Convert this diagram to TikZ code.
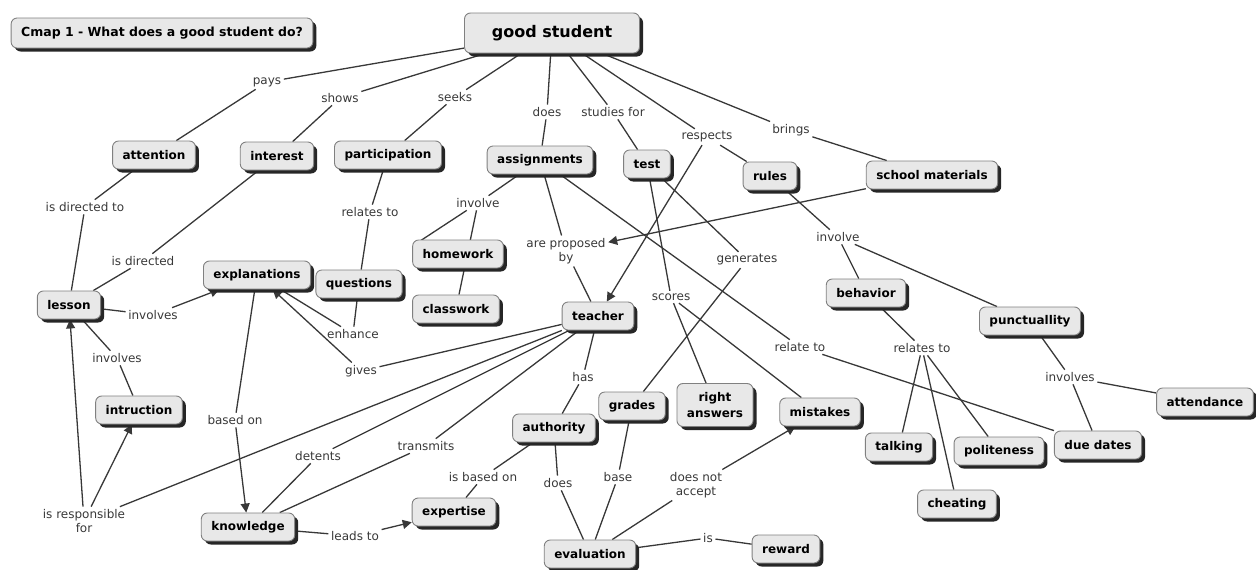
\documentclass[tikz,border=0pt]{standalone}
\usepackage{fontspec}
\setmainfont{DejaVu Sans}
\usetikzlibrary{shadows,arrows.meta}
\pgfdeclarelayer{bg}
\pgfsetlayers{bg,main}
\begin{document}
\begin{tikzpicture}[x=1pt,y=-1pt,
  concept/.style={draw=black!50, line width=0.9pt, fill=black!9, rounded corners=6pt,
    font=\bfseries\fontsize{12}{14}\selectfont, text=black, inner xsep=10pt, inner ysep=3pt,
    minimum height=28pt, align=center,
    drop shadow={shadow xshift=3.5pt, shadow yshift=-3.5pt, fill=black!85, opacity=1}},
  lbl/.style={font=\fontsize{12}{14}\selectfont, text=black!78, inner sep=2.5pt, align=center},
  link/.style={draw=black!78, line width=1.3pt},
  arr/.style={link, -{Triangle[length=9pt,width=9pt]}}]
\useasboundingbox (0,0) rectangle (1256,570);

% concepts
\node[concept, font=\bfseries\fontsize{12.5}{14}\selectfont, minimum height=30pt, minimum width=300pt] (title) at (162,33) {Cmap 1 - What does a good student do?};
\node[concept, font=\bfseries\fontsize{16}{18}\selectfont, minimum height=40pt, minimum width=175pt] (gs) at (552,33) {good student};
\node[concept] (att) at (154,155) {attention};
\node[concept] (int) at (277,156) {interest};
\node[concept] (par) at (388,155) {participation};
\node[concept] (asg) at (540,160) {assignments};
\node[concept] (test) at (647,164) {test};
\node[concept] (rules) at (770,176) {rules};
\node[concept] (sm) at (932,175) {school materials};
\node[concept] (expl) at (257,275) {explanations};
\node[concept] (ques) at (359,284) {questions};
\node[concept] (hw) at (458,254) {homework};
\node[concept] (cw) at (456,309) {classwork};
\node[concept] (lesson) at (69,305) {lesson};
\node[concept] (intr) at (139,410) {intruction};
\node[concept] (teacher) at (598,316) {teacher};
\node[concept] (beh) at (866,293) {behavior};
\node[concept] (punc) at (1030,321) {punctuallity};
\node[concept] (attd) at (1205,402) {attendance};
\node[concept] (grades) at (632,406) {grades};
\node[concept, font=\bfseries\fontsize{12}{16}\selectfont, minimum height=43pt, minimum width=76pt] (ra) at (715,405) {right\\answers};
\node[concept] (mist) at (820,412) {mistakes};
\node[concept] (auth) at (554,428) {authority};
\node[concept] (talk) at (899,447) {talking};
\node[concept] (pol) at (999,451) {politeness};
\node[concept] (dd) at (1098,445) {due dates};
\node[concept] (cheat) at (957,504) {cheating};
\node[concept] (know) at (248,527) {knowledge};
\node[concept] (exp) at (454,512) {expertise};
\node[concept] (eval) at (590,554) {evaluation};
\node[concept] (reward) at (786,549) {reward};

% linking phrases
\node[lbl] (lpays) at (267,82) {pays};
\node[lbl] (lshows) at (340,98) {shows};
\node[lbl] (lseeks) at (455,97) {seeks};
\node[lbl] (ldoes) at (547,112) {does};
\node[lbl] (lstudy) at (613,112) {studies for};
\node[lbl] (lresp) at (707,137) {respects};
\node[lbl] (lbrings) at (791,130) {brings};
\node[lbl] (lidt) at (85,207) {is directed to};
\node[lbl] (lid) at (143,261) {is directed};
\node[lbl] (lrel) at (370,212) {relates to};
\node[lbl] (linvA) at (478,203) {involve};
\node[lbl] (lapb) at (566,251) {are proposed\\by};
\node[lbl] (lgen) at (747,260) {generates};
\node[lbl] (linvB) at (838,237) {involve};
\node[lbl] (linvsA) at (153,315) {involves};
\node[lbl] (lenh) at (353,334) {enhance};
\node[lbl] (lgives) at (361,371) {gives};
\node[lbl] (linvsB) at (117,358) {involves};
\node[lbl] (lscores) at (671,297) {scores};
\node[lbl] (lrelto) at (800,347) {relate to};
\node[lbl] (lrelsto) at (922,348) {relates to};
\node[lbl] (linvsC) at (1070,377) {involves};
\node[lbl] (lhas) at (583,377) {has};
\node[lbl] (lbased) at (235,420) {based on};
\node[lbl] (ldet) at (318,456) {detents};
\node[lbl] (ltrans) at (426,446) {transmits};
\node[lbl] (lisb) at (483,477) {is based on};
\node[lbl] (ldoesB) at (558,483) {does};
\node[lbl] (lbase) at (618,477) {base};
\node[lbl] (ldna) at (696,485) {does not\\accept};
\node[lbl] (lirf) at (84,521) {is responsible\\for};
\node[lbl] (lleads) at (355,536) {leads to};
\node[lbl] (lis) at (708,538) {is};

\coordinate (hwc) at ([xshift=7pt,yshift=-2pt]hw.north west);

\begin{pgfonlayer}{bg}
\draw[link] (gs) -- (lpays) -- (att);
\draw[link] (gs) -- (lshows) -- (int);
\draw[link] (gs) -- (lseeks) -- (par);
\draw[link] (gs) -- (ldoes) -- (asg);
\draw[link] (gs) -- (lstudy) -- (test);
\draw[link] (gs) -- (lresp) -- (rules);
\draw[arr] (lresp) -- (teacher);
\draw[link] (gs) -- (lbrings) -- (sm);
\draw[arr] (sm) -- (lapb);
\draw[link] (att) -- (lidt) -- (lesson);
\draw[link] (int) -- (lid) -- (lesson);
\draw[link] (par) -- (lrel) -- (ques);
\draw[link] (asg) -- (linvA);
\draw[link] (linvA) -- (hwc);
\draw[link] (linvA) -- (cw);
\draw[link] (asg) -- (lapb) -- (teacher);
\draw[link] (asg) -- (lrelto) -- (dd);
\draw[link] (test) -- (lscores) -- (ra);
\draw[link] (lscores) -- (mist);
\draw[link] (test) -- (lgen) -- (grades);
\draw[link] (rules) -- (linvB) -- (beh);
\draw[link] (linvB) -- (punc);
\draw[link] (beh) -- (lrelsto) -- (talk);
\draw[link] (lrelsto) -- (cheat);
\draw[link] (lrelsto) -- (pol);
\draw[link] (punc) -- (linvsC) -- (dd);
\draw[link] (linvsC) -- (attd);
\draw[link] (lesson) -- (linvsA);
\draw[arr] (linvsA) -- (expl);
\draw[link] (lesson) -- (linvsB) -- (intr);
\draw[link] (ques) -- (lenh) -- (expl);
\draw[link] (teacher) -- (lgives);
\draw[arr] (lgives) -- (expl);
\draw[link] (teacher) -- (lirf);
\draw[arr] (lirf) -- (lesson);
\draw[arr] (lirf) -- (intr);
\draw[link] (teacher) -- (ldet) -- (know);
\draw[link] (teacher) -- (ltrans) -- (know);
\draw[link] (expl) -- (lbased);
\draw[arr] (lbased) -- (know);
\draw[link] (know) -- (lleads);
\draw[arr] (lleads) -- (exp);
\draw[link] (teacher) -- (lhas) -- (auth);
\draw[link] (auth) -- (lisb) -- (exp);
\draw[link] (auth) -- (ldoesB) -- (eval);
\draw[link] (grades) -- (lbase) -- (eval);
\draw[link] (eval) -- (ldna);
\draw[arr] (ldna) -- (mist);
\draw[link] (eval) -- (lis) -- (reward);
\end{pgfonlayer}
\end{tikzpicture}
\end{document}
